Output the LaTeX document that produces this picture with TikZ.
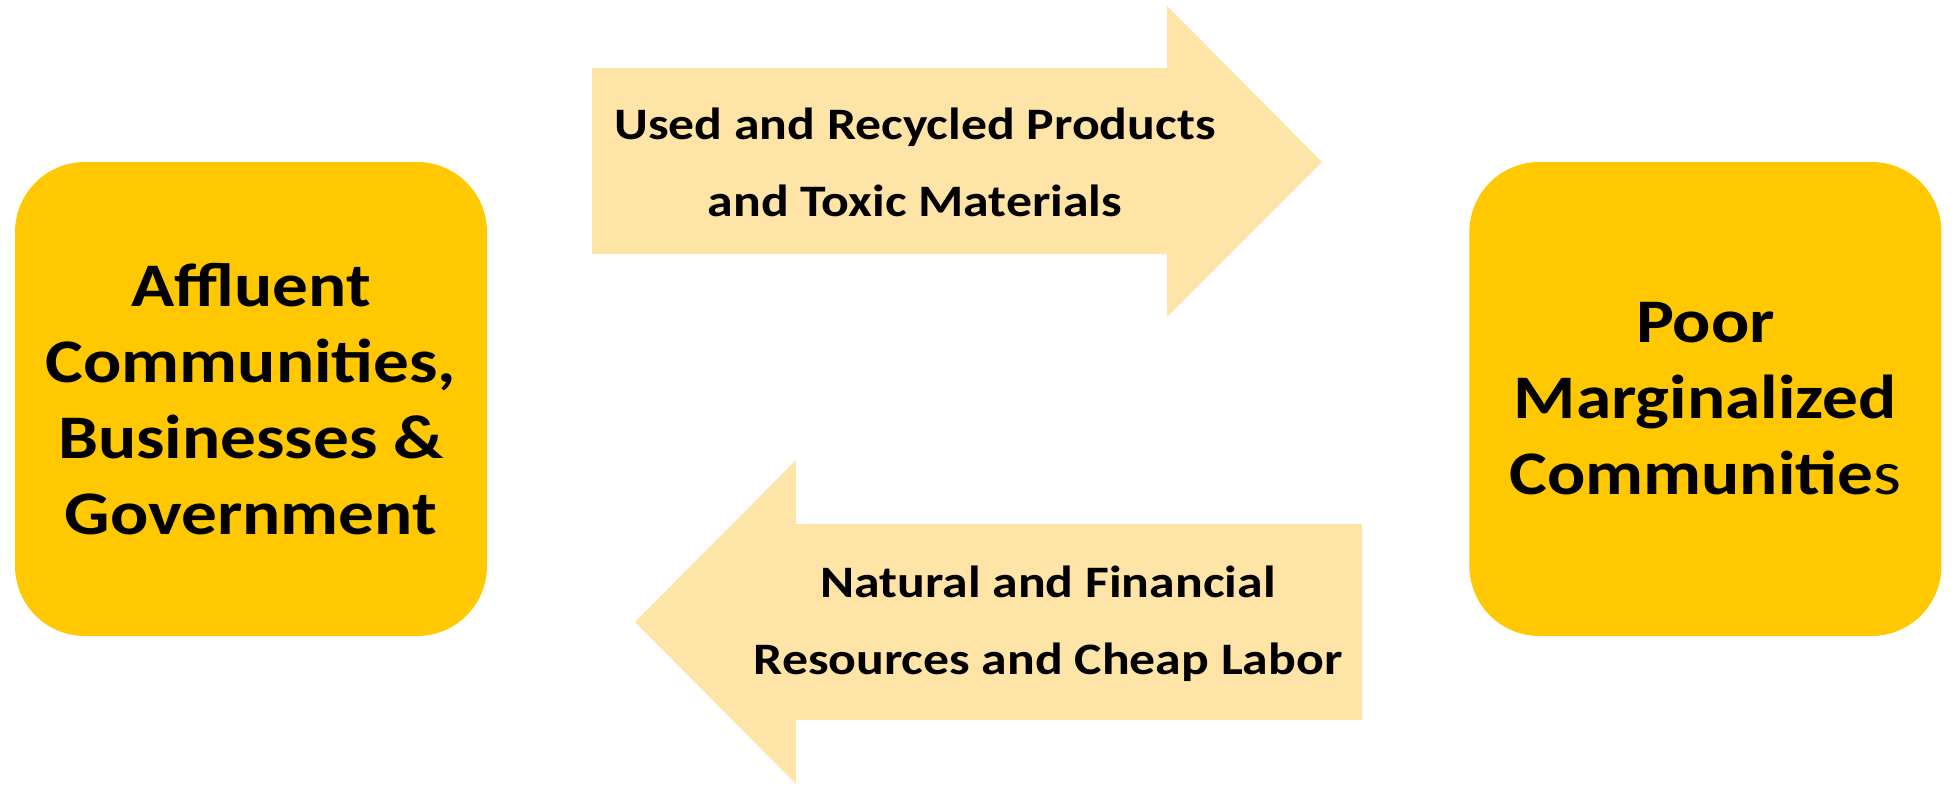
\documentclass[tikz,border=0pt]{standalone}
\usepackage{fontspec}
\setmainfont{Carlito}[FakeStretch=1.15]
\usepackage{tikz}
\usetikzlibrary{positioning}
\definecolor{gold}{RGB}{255, 200, 0}
\definecolor{peach}{RGB}{255, 228, 168}
\tikzstyle{community} = [rectangle, rounded corners=70pt, minimum width=472pt, minimum height=474pt, text centered, align=center, fill=gold, font=\fontsize{62}{76}\selectfont\bfseries]
\tikzstyle{flowtext} = [align=center, font=\fontsize{45}{77}\selectfont\bfseries]
\tikzstyle{flow} = [fill=peach]

\begin{document}
\begin{tikzpicture}[x=1pt, y=-1pt]
    \useasboundingbox (0,0) rectangle (1960,798);

    % Communities
    \node[community] (affluent) at (251,399) {Affluent\\Communities,\\Businesses \&\\Government};
    \node[community, right=982pt of affluent] (poor) {Poor\\Marginalized\\Communitie{\mdseries s}};

    % Block arrows
    \fill[flow] (592,68) -- (1167,68) -- (1167,6) -- (1322,162) -- (1167,317) -- (1167,254) -- (592,254) -- cycle;
    \fill[flow] (1362,524) -- (796,524) -- (796,460) -- (635,622) -- (796,784) -- (796,720) -- (1362,720) -- cycle;

    % Flow labels
    \node[flowtext] (outflow) at (915,162) {Used and Recycled Products\\and Toxic Materials};
    \node[flowtext] (inflow) at (1048,624) {Natural and Financial\\Resources and Cheap Labor};
\end{tikzpicture}
\end{document}
